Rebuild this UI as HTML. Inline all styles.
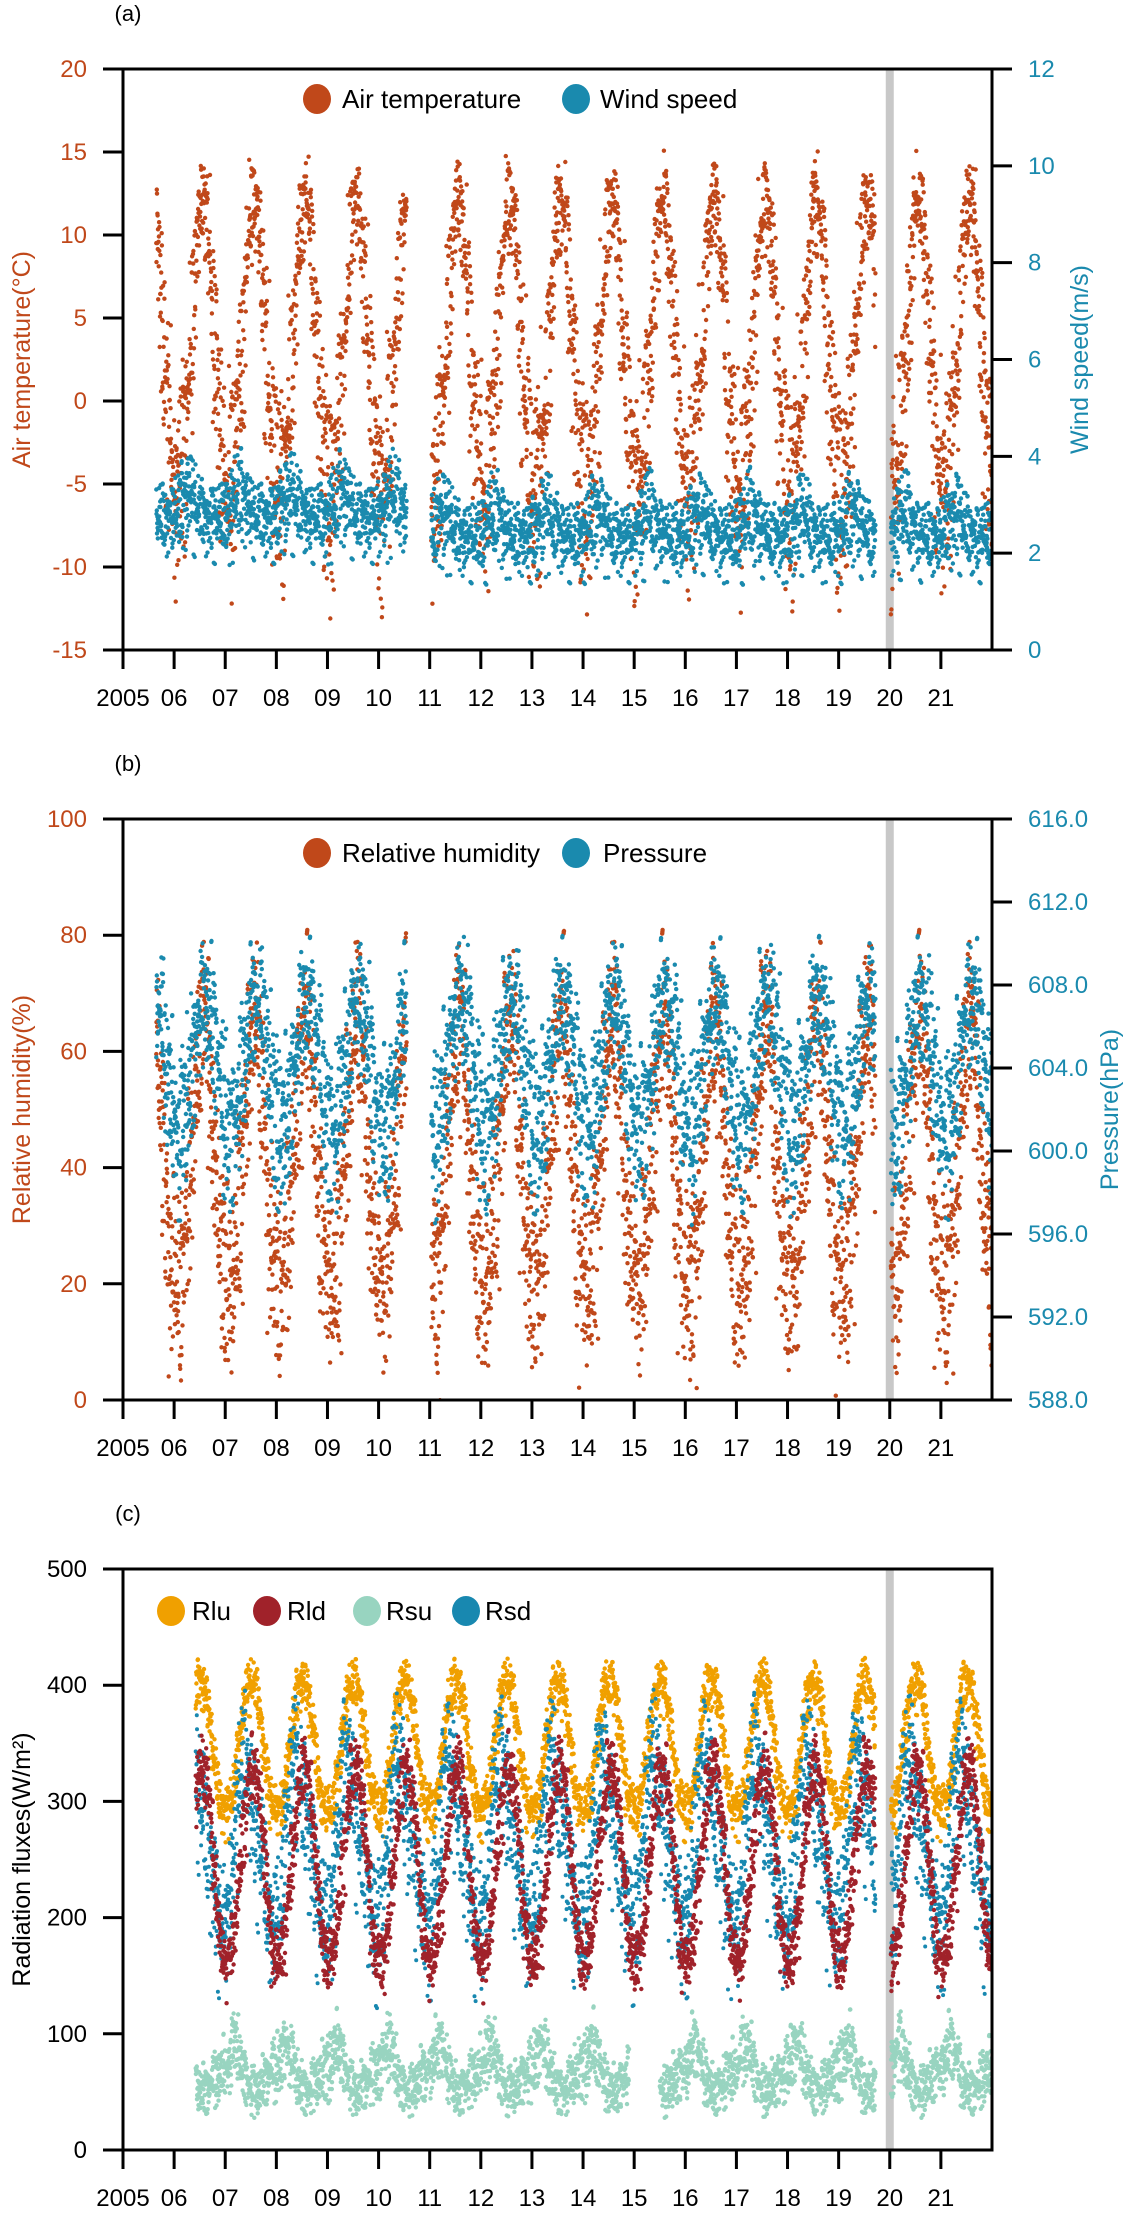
<!DOCTYPE html>
<html><head><meta charset="utf-8"><style>
html,body{margin:0;padding:0;background:#fff}
svg{display:block;font-family:"Liberation Sans",sans-serif}
</style></head><body>
<svg id="fig" width="1135" height="2226" viewBox="0 0 1135 2226" xmlns="http://www.w3.org/2000/svg"></svg>
<script>
// ---------- data ----------
const yearTicks = ["2005","06","07","08","09","10","11","12","13","14","15","16","17","18","19","20","21"];
const tempClim = [-6,-5,-2,1,5,10,12,11.5,8,3,-1,-4];
const tempSpread = [3.5,3.5,3.5,3,3,2,1.5,1.5,2.5,3.5,3.5,3.5];
const windClim = [2.4,2.5,2.7,2.8,2.7,2.5,2.4,2.3,2.3,2.3,2.3,2.3];
const windYearAnom = [0.4,0.4,0.4,0.4,0.4,0.4,0,0,0,0,0,0,0,0,0,0,0];
const windSpread = [0.45,0.5,0.55,0.55,0.5,0.45,0.4,0.4,0.4,0.4,0.4,0.4];
const rhClim = [20,18,25,35,45,55,65,65,55,40,30,22];
const rhSpread = [9,9,10,10,10,9,8,8,9,10,10,9];
const presClim = [601,600.5,601.5,603,604,606,607,607,606.5,605.5,603.5,602];
const presSpread = [2.2,2.2,2.2,2,2,1.8,1.6,1.6,1.8,2,2.2,2.2];
const rluClim = [292,300,325,355,385,400,402,392,365,330,305,293];
const rldClim = [160,172,200,240,280,315,330,320,290,240,190,165];
const rsuClim = [70,85,90,80,65,55,50,50,55,60,65,68];
const rsdClim = [200,230,280,320,340,320,290,270,250,220,200,190];
const rluSpread = [12,12,14,14,14,12,12,12,14,14,12,12];
const rldSpread = [14,15,18,20,20,18,16,16,18,20,18,14];
const rsuSpread = [16,16,16,15,14,12,12,12,12,13,14,15];
const rsdSpread = [30,32,34,34,32,32,34,34,34,32,30,30];
// deterministic scatter pattern (offsets in spread units)
const scatter = [-1.6,0.4,-0.3,1.1,-0.9,0.1,1.7,-0.5,0.8,-1.2,0.3,-0.1,1.3,-0.7,0.6,-1.9,0.2,0.9,-0.4,1.5];
const metPeriods = [[2005.65,2010.55],[2011.03,2019.72],[2020.02,2022]];
const radPeriods = [[2006.42,2019.72],[2020.02,2022]];
const rsuPeriods = [[2006.42,2014.9],[2015.5,2019.72],[2020.02,2022]];

// ---------- layout ----------
const svg = document.getElementById('fig');
const NS = 'http://www.w3.org/2000/svg';
const L = 123, R = 992, H = 581;
const X0 = 2005, X1 = 2022;
const xs = v => L + (v - X0) / (X1 - X0) * (R - L);
const ORANGE = '#c0481a', BLUE = '#1a8aae';
function el(tag, attrs, parent) {
  const e = document.createElementNS(NS, tag);
  for (const k in attrs) e.setAttribute(k, attrs[k]);
  (parent || svg).appendChild(e);
  return e;
}
function txt(s, x, y, size, fill, anchor, parent) {
  const t = el('text', {x: x, y: y, 'font-size': size, fill: fill, 'text-anchor': anchor || 'start'}, parent);
  t.textContent = s;
  return t;
}

function panel(id, top, label, leftTicks, leftLabels, leftColor, leftTitle, rightTicks, rightLabels, rightTitle, rightTitleX) {
  const g = el('g', {});
  
  
  const bot = top + H;
  const pl = txt(label, 128, top - 48, 22, '#000', 'middle', g);
  
  
  const band = el('rect', {x: xs(2020) - 4, y: top, width: 8, height: H, fill: '#c8c8c8'}, g);
  
  
  const clip = el('clipPath', {id: 'clip-' + id}, g);
  el('rect', {x: L, y: top, width: R - L, height: H}, clip);
  const dots = el('g', {'clip-path': 'url(#clip-' + id + ')'}, g);
  
  
  const fr = el('rect', {x: L, y: top, width: R - L, height: H, fill: 'none', stroke: '#000', 'stroke-width': 3}, g);
  
  
  const xa = el('g', {}, g);
  
  
  yearTicks.forEach((s, i) => {
    const x = xs(X0 + i);
    el('line', {x1: x, x2: x, y1: bot, y2: bot + 19, stroke: '#000', 'stroke-width': 3}, xa);
    const t = txt(s, x, bot + 56, 24, '#000', 'middle', xa);
    
    
  });
  const la = el('g', {}, g);
  
  
  const lmin = leftTicks[0], lmax = leftTicks[leftTicks.length - 1];
  const ly = v => bot - (v - lmin) / (lmax - lmin) * H;
  leftTicks.forEach((v, i) => {
    el('line', {x1: 103, x2: L, y1: ly(v), y2: ly(v), stroke: '#000', 'stroke-width': 3}, la);
    const t = txt(leftLabels[i], 87, ly(v) + 8, 24, leftColor, 'end', la);
    
    
  });
  const lt = txt(leftTitle, 0, 0, 25, leftColor, 'middle', la);
  lt.setAttribute('transform', 'translate(30,' + (top + H / 2) + ') rotate(-90)');
  
  
  let ry = null;
  if (rightTicks) {
    const ra = el('g', {}, g);
    
    
    const rmin = rightTicks[0], rmax = rightTicks[rightTicks.length - 1];
    ry = v => bot - (v - rmin) / (rmax - rmin) * H;
    rightTicks.forEach((v, i) => {
      el('line', {x1: R, x2: R + 20, y1: ry(v), y2: ry(v), stroke: '#000', 'stroke-width': 3}, ra);
      const t = txt(rightLabels[i], 1028, ry(v) + 8, 24, BLUE, 'start', ra);
      
      
    });
    const rt = txt(rightTitle, 0, 0, 25, BLUE, 'middle', ra);
    rt.setAttribute('transform', 'translate(' + rightTitleX + ',' + (top + H / 2) + ') rotate(-90)');
    
    
  }
  return {g: g, dots: dots, ly: ly, ry: ry};
}

function climAt(arr, frac) {
  // frac: month position (0..12), smooth blend between neighbouring monthly values
  const p = frac - 0.5;
  const i0 = ((Math.floor(p) % 12) + 12) % 12, i1 = (i0 + 1) % 12;
  const w = p - Math.floor(p);
  return arr[i0] * (1 - w) + arr[i1] * w;
}

function series(parent, name, periods, clim, spread, anom, yfn, color, r, shift) {
  const g = el('g', {fill: color}, parent);
  
  
  const n = scatter.length;
  periods.forEach(p => {
    for (let yr = Math.floor(p[0]); yr < p[1]; yr++) {
      for (let m = 0; m < 12; m++) {
        for (let k = 0; k < n; k++) {
          const mf = m + (k + 0.5) / n;
          const t = yr + mf / 12;
          if (t < p[0] || t > p[1]) continue;
          const a = anom ? anom[yr - 2005] || 0 : 0;
          const o1 = scatter[(k * 7 + m * 3 + yr + shift) % n];
          const o2 = scatter[(k * 13 + m * 5 + yr * 3 + shift * 2 + 4) % n];
          const off = o1 * 0.75 + o2 * 0.55;
          const v = climAt(clim, mf) + a + climAt(spread, mf) * off;
          el('circle', {cx: xs(t).toFixed(1), cy: yfn(v).toFixed(1), r: r}, g);
        }
      }
    }
  });
}

function legend(parent, items, y) {
  items.forEach(it => {
    const g = el('g', {}, parent);
    
    
    el('ellipse', {cx: it.cx, cy: y, rx: 14, ry: 15, fill: it.color}, g);
    txt(it.label, it.tx, y + 9, 26, '#000', 'start', g);
  });
}

// ---------- panel a ----------
const pa = panel('a', 69, '(a)', [-15,-10,-5,0,5,10,15,20], ['-15','-10','-5','0','5','10','15','20'], ORANGE,
  'Air temperature(\u00B0C)', [0,2,4,6,8,10,12], ['0','2','4','6','8','10','12'], 'Wind speed(m/s)', 1088);
series(pa.dots, 'air-temperature-series', metPeriods, tempClim, tempSpread, null, pa.ly, ORANGE, 2.2, 0);
series(pa.dots, 'wind-speed-series', metPeriods, windClim, windSpread, windYearAnom, pa.ry, BLUE, 2.2, 5);
legend(pa.g, [{key:'air-temperature', cx:317, tx:342, color:ORANGE, label:'Air temperature'},
              {key:'wind-speed', cx:576, tx:600, color:BLUE, label:'Wind speed'}], 99);

// ---------- panel b ----------
const pb = panel('b', 819, '(b)', [0,20,40,60,80,100], ['0','20','40','60','80','100'], ORANGE,
  'Relative humidity(%)', [588,592,596,600,604,608,612,616], ['588.0','592.0','596.0','600.0','604.0','608.0','612.0','616.0'], 'Pressure(hPa)', 1118);
series(pb.dots, 'relative-humidity-series', metPeriods, rhClim, rhSpread, null, pb.ly, ORANGE, 2.2, 2);
series(pb.dots, 'pressure-series', metPeriods, presClim, presSpread, null, pb.ry, BLUE, 2.2, 11);
legend(pb.g, [{key:'relative-humidity', cx:317, tx:342, color:ORANGE, label:'Relative humidity'},
              {key:'pressure', cx:576, tx:603, color:BLUE, label:'Pressure'}], 853);

// ---------- panel c ----------
const pc = panel('c', 1569, '(c)', [0,100,200,300,400,500], ['0','100','200','300','400','500'], '#000',
  'Radiation fluxes(W/m\u00B2)', null, null, null, 0);
series(pc.dots, 'rsu-series', rsuPeriods, rsuClim, rsuSpread, null, pc.ly, '#98d4c0', 2.2, 3);
series(pc.dots, 'rlu-series', radPeriods, rluClim, rluSpread, null, pc.ly, '#f0a000', 2.2, 1);
series(pc.dots, 'rsd-series', radPeriods, rsdClim, rsdSpread, null, pc.ly, '#1888b0', 2.0, 9);
series(pc.dots, 'rld-series', radPeriods, rldClim, rldSpread, null, pc.ly, '#a0222a', 2.2, 6);
legend(pc.g, [{key:'rlu', cx:171, tx:192, color:'#f0a000', label:'Rlu'},
              {key:'rld', cx:267, tx:287, color:'#a0222a', label:'Rld'},
              {key:'rsu', cx:367, tx:386, color:'#98d4c0', label:'Rsu'},
              {key:'rsd', cx:466, tx:485, color:'#1888b0', label:'Rsd'}], 1611);
</script>
</body></html>
